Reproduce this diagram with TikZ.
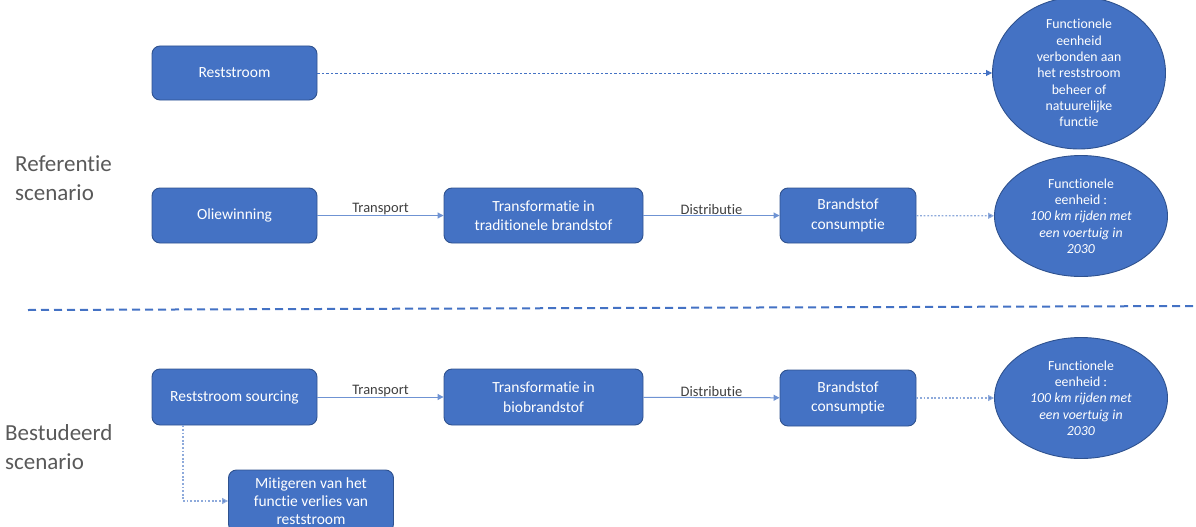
\documentclass[tikz,border=0pt]{standalone}
\usepackage{fontspec}
\setmainfont{Carlito}[Ligatures=CommonOff]
\usetikzlibrary{arrows.meta,shapes.geometric}
\definecolor{boxfill}{HTML}{4472C4}
\definecolor{boxline}{HTML}{2F528F}
\definecolor{linkcol}{HTML}{6F93D3}
\definecolor{lightlink}{HTML}{8EAADB}
\definecolor{labelgray}{HTML}{404040}
\definecolor{titlegray}{HTML}{595959}
\tikzset{
  procbox/.style={draw=boxline, line width=0.9pt, fill=boxfill, rounded corners=8pt,
    text=white, align=center, inner sep=0pt,
    font=\fontsize{15.5}{19.5}\selectfont},
  unitell/.style={ellipse, draw=boxline, line width=0.9pt, fill=boxfill,
    text=white, align=center, inner sep=0pt,
    minimum width=173pt, minimum height=121pt,
    font=\fontsize{13.8}{16.3}\selectfont},
  flow/.style={draw=linkcol, line width=1pt, -{Triangle[length=6pt,width=6pt]}},
  dashflow/.style={draw=boxfill, line width=0.8pt, dash pattern=on 2.5pt off 2pt,
    -{Triangle[length=6pt,width=6pt]}},
  dotflow/.style={draw=lightlink, line width=1.2pt, dash pattern=on 1.8pt off 1.8pt,
    -{Triangle[length=6pt,width=6pt,fill=boxfill]}},
  flowlabel/.style={text=labelgray, font=\fontsize{14.5}{17}\selectfont, inner sep=0pt},
  scenario/.style={text=titlegray, align=left, anchor=north west, inner sep=0pt,
    font=\fontsize{23}{29}\selectfont}
}
\begin{document}
\begin{tikzpicture}[x=1pt,y=-1pt]
\useasboundingbox (0,0) rectangle (1196,527);

% scenario titles
\node[scenario] (tref) at (15,155) {Referentie\\scenario};
\node[scenario] (tbest) at (5,424) {Bestudeerd\\scenario};

% top row: residual stream and its function
\node[procbox, minimum width=165pt, minimum height=54pt] (rest) at (234.5,73) {Reststroom};
\node[unitell] (fu1) at (1079,73) {Functionele\\eenheid\\verbonden aan\\het reststroom\\beheer of\\natuurelijke\\functie};
\draw[dashflow] (rest) -- (fu1);

% reference chain
\node[procbox, minimum width=165pt, minimum height=55pt] (olie) at (234.5,215.5) {Oliewinning};
\node[procbox, minimum width=199pt, minimum height=55pt] (trad) at (543.5,215.5) {Transformatie in\\traditionele brandstof};
\node[procbox, minimum width=136pt, minimum height=55pt] (cons1) at (848,215.5) {Brandstof\\consumptie};
\node[unitell] (fu2) at (1081,216) {Functionele\\eenheid :\\\textit{100 km rijden met}\\\textit{een voertuig in}\\\textit{2030}};
\draw[flow] (olie) -- node[flowlabel, above=0pt] (lt1) {Transport} (trad);
\draw[flow] (trad) -- node[flowlabel, above=0pt] (ld1) {Distributie} (cons1);
\draw[dotflow] (cons1) -- (fu2);

% separator between the two scenarios
\coordinate (sepL) at (28,310);
\coordinate (sepR) at (1196,306);
\draw[boxfill, line width=2pt, dash pattern=on 8pt off 5pt] (sepL) -- (sepR);

% studied chain
\node[procbox, minimum width=165pt, minimum height=56pt] (src) at (234.5,397) {Reststroom sourcing};
\node[procbox, minimum width=199pt, minimum height=56pt] (bio) at (543.5,397) {Transformatie in\\biobrandstof};
\node[procbox, minimum width=136pt, minimum height=56pt] (cons2) at (848,398) {Brandstof\\consumptie};
\node[unitell] (fu3) at (1081,398) {Functionele\\eenheid :\\\textit{100 km rijden met}\\\textit{een voertuig in}\\\textit{2030}};
\draw[flow] (src) -- node[flowlabel, above=0pt] (lt2) {Transport} (bio);
\draw[flow] (bio) -- node[flowlabel, above=0pt] (ld2) {Distributie} (cons2);
\draw[dotflow] (cons2) -- (fu3);

% mitigation branch (runs past the lower edge)
\node[procbox, minimum width=165pt, minimum height=62pt,
  font=\fontsize{15.5}{18.3}\selectfont] (mit) at (311,501) {Mitigeren van het\\functie verlies van\\reststroom};
\draw[dotflow] (src.south -| 183,0) |- (mit.west);
\end{tikzpicture}
\end{document}
